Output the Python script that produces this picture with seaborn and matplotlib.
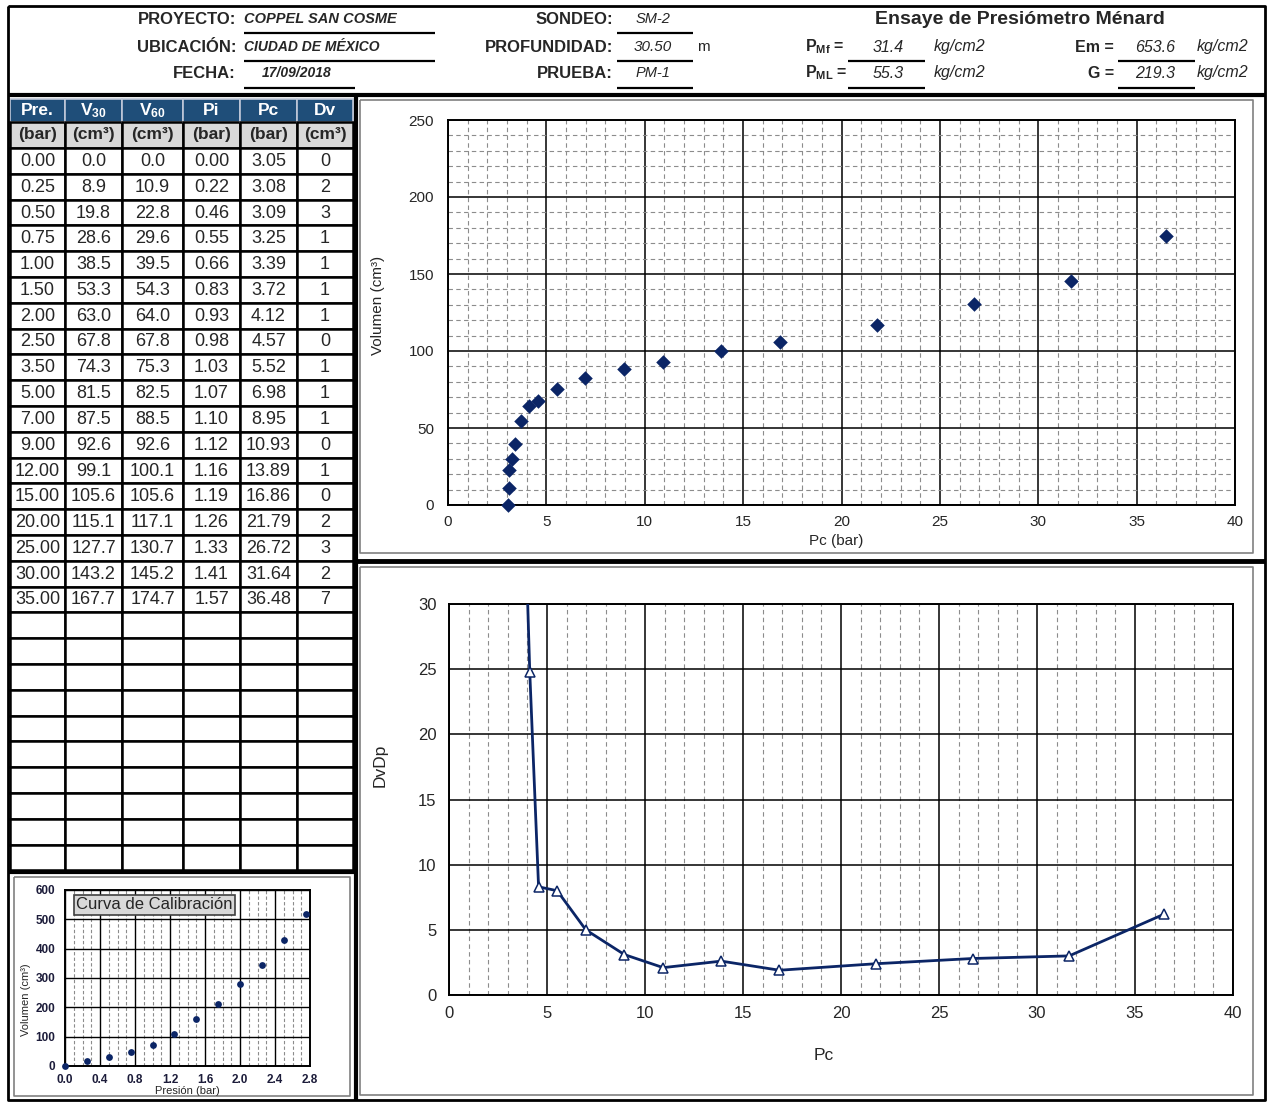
import matplotlib
matplotlib.use("Agg")
import matplotlib.pyplot as plt
import seaborn as sns
import numpy as np
from matplotlib.patches import Rectangle
from matplotlib.ticker import MultipleLocator
from matplotlib import font_manager

# ---- test data (table) ----
pre = [0.00, 0.25, 0.50, 0.75, 1.00, 1.50, 2.00, 2.50, 3.50, 5.00, 7.00, 9.00,
       12.00, 15.00, 20.00, 25.00, 30.00, 35.00]
v30 = [0.0, 8.9, 19.8, 28.6, 38.5, 53.3, 63.0, 67.8, 74.3, 81.5, 87.5, 92.6,
       99.1, 105.6, 115.1, 127.7, 143.2, 167.7]
v60 = [0.0, 10.9, 22.8, 29.6, 39.5, 54.3, 64.0, 67.8, 75.3, 82.5, 88.5, 92.6,
       100.1, 105.6, 117.1, 130.7, 145.2, 174.7]
pi = [0.00, 0.22, 0.46, 0.55, 0.66, 0.83, 0.93, 0.98, 1.03, 1.07, 1.10, 1.12,
      1.16, 1.19, 1.26, 1.33, 1.41, 1.57]
pc = [3.05, 3.08, 3.09, 3.25, 3.39, 3.72, 4.12, 4.57, 5.52, 6.98, 8.95, 10.93,
      13.89, 16.86, 21.79, 26.72, 31.64, 36.48]
dv = [0, 2, 3, 1, 1, 1, 1, 0, 1, 1, 1, 0, 1, 0, 2, 3, 2, 7]

# DvDp curve
dvdp_pc = [3.72, 4.12, 4.57, 5.52, 6.98, 8.95, 10.93, 13.89, 16.86, 21.79, 26.72, 31.64, 36.48]
dvdp = [44.8, 24.8, 8.3, 8.0, 5.0, 3.1, 2.1, 2.6, 1.9, 2.4, 2.8, 3.0, 6.2]

# calibration curve
cal_p = [0.0, 0.25, 0.5, 0.75, 1.0, 1.25, 1.5, 1.75, 2.0, 2.25, 2.5, 2.75]
cal_v = [0, 17, 30, 49, 72, 108, 160, 211, 281, 346, 429, 519]

# header info
info_labels = ["PROYECTO:", "UBICACIÓN:", "FECHA:"]
info_values = ["COPPEL SAN COSME", "CIUDAD DE MÉXICO", "17/09/2018"]
sondeo_labels = ["SONDEO:", "PROFUNDIDAD:", "PRUEBA:"]
sondeo_values = ["SM-2", "30.50", "PM-1"]
p_labels = [r"P$_{\mathbf{Mf}}$ =", r"P$_{\mathbf{ML}}$ ="]
p_values = ["31.4", "55.3"]
e_labels = ["Em =", "G ="]
e_values = ["653.6", "219.3"]

W, H = 1270, 1102
NAVY = "#0b2566"
BLUE_HEAD = "#1f4e79"
GREY_HEAD = "#d9d9d9"

sns.set_style("white")
plt.rcParams["font.family"] = ["Liberation Sans", "DejaVu Sans"]
plt.rcParams["mathtext.fontset"] = "custom"
plt.rcParams["mathtext.rm"] = "Liberation Sans"
plt.rcParams["mathtext.it"] = "Liberation Sans:italic"
plt.rcParams["mathtext.bf"] = "Liberation Sans:bold"

installed = {f.name for f in font_manager.fontManager.ttflist}
if "Liberation Sans Narrow" in installed:
    title_font, title_size = ["Liberation Sans Narrow", "Liberation Sans"], 16
else:
    title_font, title_size = ["Liberation Sans"], 14

fig = plt.figure(figsize=(12.7, 11.02), dpi=100)
bg = fig.add_axes([0, 0, 1, 1], zorder=0)
bg.set_xlim(0, W)
bg.set_ylim(H, 0)
bg.axis("off")


def px_axes(l, t, r, b):
    return fig.add_axes([l / W, 1 - b / H, (r - l) / W, (b - t) / H], zorder=2)


def line(xs, ys, lw=1.5, color="black"):
    bg.plot(xs, ys, color=color, lw=lw, solid_capstyle="butt")


# ---- header ----
for i, y in enumerate([19, 47, 73]):
    bg.text(236, y, info_labels[i], ha="right", va="center", fontsize=12, fontweight="bold")
    bg.text(613, y, sondeo_labels[i], ha="right", va="center", fontsize=12, fontweight="bold")
bg.text(244, 19, info_values[0], ha="left", va="center", fontsize=10.5, fontweight="bold", style="italic")
bg.text(244, 47, info_values[1], ha="left", va="center", fontsize=10, fontweight="bold", style="italic")
bg.text(262, 73, info_values[2], ha="left", va="center", fontsize=10, fontweight="bold", style="italic")
bg.text(636, 19, sondeo_values[0], ha="left", va="center", fontsize=10.5, style="italic")
bg.text(634, 47, sondeo_values[1], ha="left", va="center", fontsize=11, style="italic")
bg.text(697, 47, "m", ha="left", va="center", fontsize=11)
bg.text(636, 73, sondeo_values[2], ha="left", va="center", fontsize=10.5, style="italic")
bg.text(1020, 19, "Ensaye de Presiómetro Ménard", ha="center", va="center",
        fontsize=title_size, fontweight="bold", family=title_font)
for i, y in enumerate([47, 73]):
    bg.text(805, y, p_labels[i], ha="left", va="center", fontsize=11.5, fontweight="bold")
    bg.text(888, y, p_values[i], ha="center", va="center", fontsize=11.5, style="italic")
    bg.text(934, y, "kg/cm2", ha="left", va="center", fontsize=11.5, style="italic")
    bg.text(1114, y, e_labels[i], ha="right", va="center", fontsize=11.5, fontweight="bold")
    bg.text(1155, y, e_values[i], ha="center", va="center", fontsize=11.5, style="italic")
    bg.text(1197, y, "kg/cm2", ha="left", va="center", fontsize=11.5, style="italic")

for x0, x1, y in [(244, 435, 33), (244, 435, 61), (244, 355, 88),
                  (617, 693, 33), (617, 693, 61), (617, 693, 88),
                  (848, 925, 61), (848, 925, 88), (1118, 1195, 61), (1118, 1195, 88)]:
    line([x0, x1], [y, y], lw=1.6)

# ---- frame lines ----
line([8, 1265, 1265, 8, 8], [6, 6, 1100, 1100, 6], lw=2)
line([8, 1265], [95, 95], lw=3)
line([356, 356], [95, 1100], lw=3)
line([356, 1265], [561, 561], lw=3.5)
line([8, 356], [872, 872], lw=3)
for l, t, r, b in [(360, 100, 1253, 553), (360, 567, 1253, 1095), (14, 877, 350, 1096)]:
    line([l, r, r, l, l], [t, t, b, b, t], lw=1.2, color="#808080")

# ---- table ----
col_edges = [10, 65, 122, 183, 240, 297, 353]
head1 = ["Pre.", r"V$_{\mathbf{30}}$", r"V$_{\mathbf{60}}$", "Pi", "Pc", "Dv"]
head2 = ["(bar)", "(cm³)", "(cm³)", "(bar)", "(bar)", "(cm³)"]
columns = [[f"{v:.2f}" for v in pre], [f"{v:.1f}" for v in v30], [f"{v:.1f}" for v in v60],
           [f"{v:.2f}" for v in pi], [f"{v:.2f}" for v in pc], [f"{v:d}" for v in dv]]
row0, row_h, n_rows = 148, 25.8, 28
for c in range(6):
    x0, x1 = col_edges[c], col_edges[c + 1]
    xc = (x0 + x1) / 2
    bg.add_patch(Rectangle((x0, 99), x1 - x0, 23, fc=BLUE_HEAD, ec="#c0c8d8", lw=1.2))
    bg.text(xc, 110.5, head1[c], ha="center", va="center", color="white", fontsize=12.5, fontweight="bold")
    bg.add_patch(Rectangle((x0, 122), x1 - x0, 26, fc=GREY_HEAD, ec="black", lw=1.8))
    bg.text(xc, 135, head2[c], ha="center", va="center", fontsize=12.5, fontweight="bold")
    for r in range(n_rows):
        y = row0 + r * row_h
        bg.add_patch(Rectangle((x0, y), x1 - x0, row_h, fc="white", ec="black", lw=1.8))
        if r < len(pre):
            bg.text(xc, y + row_h / 2 + 0.5, columns[c][r], ha="center", va="center", fontsize=13)

# ---- upper chart: Volumen vs Pc ----
ax1 = px_axes(448, 120, 1235, 505)
sns.scatterplot(x=pc, y=v60, ax=ax1, marker="D", s=55, color=NAVY, edgecolor=NAVY, linewidth=0,
                zorder=3, clip_on=False)
ax1.set_xlim(0, 40)
ax1.set_ylim(0, 250)
ax1.xaxis.set_major_locator(MultipleLocator(5))
ax1.xaxis.set_minor_locator(MultipleLocator(1))
ax1.yaxis.set_major_locator(MultipleLocator(50))
ax1.yaxis.set_minor_locator(MultipleLocator(10))
ax1.grid(which="minor", color="#8c8c8c", lw=0.8, ls=(0, (4, 3)))
ax1.grid(which="major", color="black", lw=1.1)
ax1.set_axisbelow(True)
ax1.tick_params(which="both", length=0, labelsize=11)
ax1.tick_params(axis="x", pad=7)
ax1.tick_params(axis="y", pad=10)
ax1.set_xlabel("Pc (bar)", fontsize=11, va="center")
ax1.xaxis.set_label_coords((836 - 448) / 787, -(541 - 505) / 385)
ax1.set_ylabel("Volumen (cm³)", fontsize=11, va="center")
ax1.yaxis.set_label_coords(-(448 - 378) / 787, (505 - 305) / 385)

# ---- lower chart: DvDp vs Pc ----
ax2 = px_axes(449, 604, 1233, 995)
sns.lineplot(x=dvdp_pc, y=dvdp, ax=ax2, sort=False, color=NAVY, lw=2, marker="^", markersize=7,
             markerfacecolor="white", markeredgecolor=NAVY, markeredgewidth=1.1, zorder=3)
ax2.set_xlim(0, 40)
ax2.set_ylim(0, 30)
ax2.xaxis.set_major_locator(MultipleLocator(5))
ax2.xaxis.set_minor_locator(MultipleLocator(1))
ax2.yaxis.set_major_locator(MultipleLocator(5))
ax2.grid(which="minor", axis="x", color="#8c8c8c", lw=0.8, ls=(0, (4, 3)))
ax2.grid(which="major", color="black", lw=1.1)
ax2.set_axisbelow(True)
ax2.tick_params(which="both", length=0, labelsize=12)
ax2.tick_params(axis="x", pad=8)
ax2.tick_params(axis="y", pad=9)
ax2.set_xlabel("Pc", fontsize=12.5, va="center")
ax2.xaxis.set_label_coords((824 - 449) / 784, -(1055 - 995) / 391)
ax2.set_ylabel("DvDp", fontsize=12.5, va="center")
ax2.yaxis.set_label_coords(-(449 - 380) / 784, (995 - 765) / 391)

# ---- calibration chart ----
ax3 = px_axes(65, 890, 310, 1066)
sns.scatterplot(x=cal_p, y=cal_v, ax=ax3, s=24, color=NAVY, edgecolor=NAVY, linewidth=0,
                zorder=3, clip_on=False)
ax3.set_xlim(0, 2.8)
ax3.set_ylim(0, 600)
ax3.xaxis.set_major_locator(MultipleLocator(0.4))
ax3.xaxis.set_minor_locator(MultipleLocator(0.1))
ax3.yaxis.set_major_locator(MultipleLocator(100))
ax3.xaxis.set_major_formatter(matplotlib.ticker.FormatStrFormatter("%.1f"))
ax3.grid(which="minor", axis="x", color="#8c8c8c", lw=0.8, ls=(0, (3, 2)))
ax3.grid(which="major", color="black", lw=1.0)
ax3.set_axisbelow(True)
ax3.tick_params(which="both", length=0, labelsize=8.5, labelcolor="#1c1c3a")
ax3.tick_params(axis="x", pad=6)
ax3.tick_params(axis="y", pad=7)
for lab in ax3.get_xticklabels() + ax3.get_yticklabels():
    lab.set_fontweight("bold")
ax3.set_xlabel("Presión (bar)", fontsize=8, va="center")
ax3.xaxis.set_label_coords((187 - 65) / 245, -(1091 - 1066) / 176)
ax3.set_ylabel("Volumen (cm³)", fontsize=8, va="center")
ax3.yaxis.set_label_coords(-(65 - 26) / 245, (1066 - 1000) / 176)
ax3.text(0.045, 0.915, "Curva de Calibración", transform=ax3.transAxes, ha="left", va="center",
         fontsize=12, zorder=5,
         bbox=dict(boxstyle="square,pad=0.15", fc=GREY_HEAD, ec="#404040", lw=1.2))

for ax in (ax1, ax2, ax3):
    for s in ax.spines.values():
        s.set_color("black")
        s.set_linewidth(1.4)

fig.savefig("out.png", dpi=100)
